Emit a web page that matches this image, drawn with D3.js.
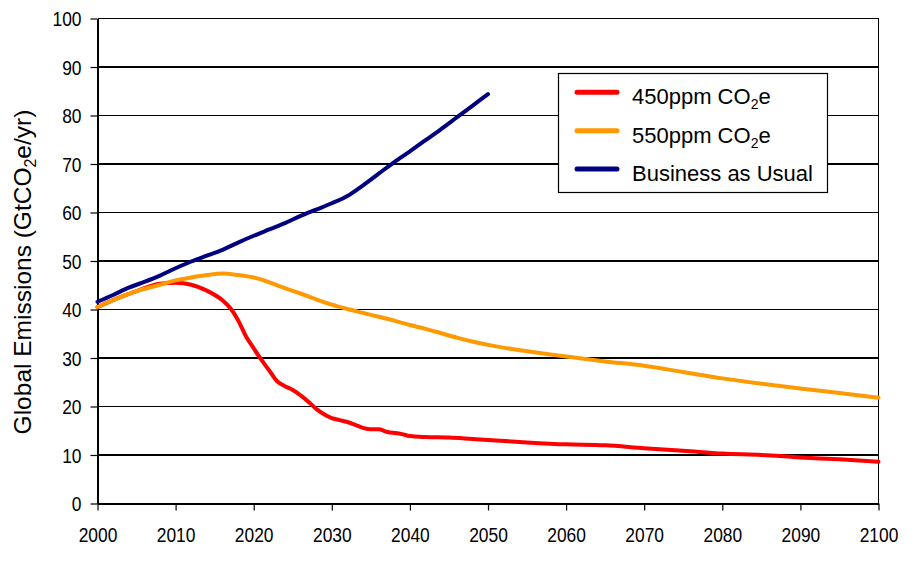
<!DOCTYPE html>
<html><head><meta charset="utf-8">
<script src="https://cdn.jsdelivr.net/npm/d3@7"></script>
<style>body{margin:0;background:#fff}text{font-family:"Liberation Sans",Arial,sans-serif;fill:#000}</style>
</head><body><svg id="c" width="914" height="564"></svg>
<script>
const xTicks = [2000,2010,2020,2030,2040,2050,2060,2070,2080,2090,2100];
const yTicks = [0,10,20,30,40,50,60,70,80,90,100];
const seriesNames = ["450ppm CO₂e","550ppm CO₂e","Business as Usual"];

const years450 = [2000,2003,2005,2008,2010,2012,2014,2016,2017,2018,2019,2020,2021,2022,2023,2024,2025,2026,2027,2028,2029,2030,2031,2032,2033,2034,2035,2036,2037,2039,2040,2042,2045,2048,2050,2055,2060,2065,2070,2075,2080,2085,2090,2095,2100];
const vals450  = [40.5,42.6,43.8,45.3,45.5,45.1,43.9,41.9,40.3,37.8,34.5,32.0,29.6,27.4,25.2,24.2,23.4,22.3,21.0,19.5,18.4,17.6,17.2,16.8,16.2,15.6,15.3,15.3,14.8,14.3,13.9,13.7,13.6,13.3,13.1,12.6,12.2,12.0,11.4,10.9,10.3,10.0,9.5,9.1,8.6];

const years550 = [2000,2003,2005,2008,2010,2012,2014,2016,2018,2020,2022,2024,2026,2028,2030,2032,2034,2036,2038,2040,2042,2044,2046,2048,2050,2055,2060,2065,2070,2075,2080,2085,2090,2095,2100];
const vals550  = [40.5,42.6,43.8,45.1,46.0,46.6,47.1,47.4,47.1,46.6,45.6,44.4,43.3,42.1,41.0,40.1,39.3,38.5,37.7,36.8,36.0,35.1,34.2,33.4,32.7,31.4,30.3,29.3,28.4,27.1,25.8,24.7,23.7,22.8,21.8];

const yearsBAU = [2000,2002,2004,2006,2008,2010,2012,2014,2016,2018,2020,2022,2024,2026,2028,2030,2032,2034,2036,2038,2040,2042,2044,2046,2048,2050];
const valsBAU  = [41.6,43.0,44.5,45.7,47.0,48.5,49.9,51.1,52.3,53.8,55.2,56.5,57.8,59.3,60.6,61.9,63.4,65.6,68.0,70.4,72.6,74.9,77.2,79.6,82.0,84.4];

const colors = ["#FF0000","#FF9900","#000080"];

const svg = d3.select("#c");
const x = d3.scaleLinear().domain([2000,2100]).range([97.5,878.5]);
const y = d3.scaleLinear().domain([0,100]).range([503.5,18.5]);

// gridlines
svg.append("g").selectAll("line").data(yTicks.filter(d=>d>0)).join("line")
  .attr("x1",x(2000)).attr("x2",x(2100)).attr("y1",d=>y(d)).attr("y2",d=>y(d))
  .attr("stroke","#000").attr("stroke-width",1.2).attr("shape-rendering","crispEdges");
// right border
svg.append("line").attr("x1",x(2100)).attr("x2",x(2100)).attr("y1",y(100)).attr("y2",y(0))
  .attr("stroke","#000").attr("stroke-width",1.2).attr("shape-rendering","crispEdges");

const fs = 20, squeeze = 0.87;
const gx = svg.append("g").attr("transform",`translate(0,${y(0)})`)
  .call(d3.axisBottom(x).tickValues(xTicks).tickSize(7).tickSizeOuter(0).tickFormat(d3.format("d")));
gx.selectAll("text").attr("y",38).attr("dy",0).style("font-size",fs+"px")
  .attr("textLength",d=>String(d).length*0.556*fs*squeeze).attr("lengthAdjust","spacingAndGlyphs");
const gy = svg.append("g").attr("transform",`translate(${x(2000)},0)`)
  .call(d3.axisLeft(y).tickValues(yTicks).tickSize(7).tickSizeOuter(0).tickPadding(9));
gy.selectAll("text").style("font-size",fs+"px").attr("dy","0.36em")
  .attr("textLength",d=>String(d).length*0.556*fs*squeeze).attr("lengthAdjust","spacingAndGlyphs");
svg.selectAll(".domain,.tick line").attr("stroke","#000").attr("stroke-width",1.2);
svg.selectAll(".domain").attr("shape-rendering","crispEdges");

// y label
const yl = svg.append("text").attr("transform","translate(31,272) rotate(-90)")
  .attr("text-anchor","middle").style("font-size","24.5px");
yl.append("tspan").text("Global Emissions (GtCO");
yl.append("tspan").text("2").style("font-size","16px").attr("dy",5);
yl.append("tspan").text("e/yr)").attr("dy",-5);

// lines
const line = d3.line().x(d=>x(d[0])).y(d=>y(d[1])).curve(d3.curveMonotoneX);
const data = [d3.zip(years450,vals450), d3.zip(years550,vals550), d3.zip(yearsBAU,valsBAU)];
svg.append("g").selectAll("path").data(data).join("path")
  .attr("d",line).attr("fill","none").attr("stroke",(d,i)=>colors[i])
  .attr("stroke-width",4).attr("stroke-linejoin","round").attr("stroke-linecap","round");

// legend
const lg = svg.append("g");
lg.append("rect").attr("x",558.5).attr("y",73.5).attr("width",269).attr("height",119)
  .attr("fill","#fff").attr("stroke","#000").attr("stroke-width",1.2);
const rows = [92.3,130.7,169];
const labels = [["450ppm CO","2","e"],["550ppm CO","2","e"],["Business as Usual"]];
rows.forEach((ry,i)=>{
  lg.append("line").attr("x1",577).attr("x2",617).attr("y1",ry).attr("y2",ry)
    .attr("stroke",colors[i]).attr("stroke-width",5).attr("stroke-linecap","round");
  const t = lg.append("text").attr("x",632).attr("y",ry+12).style("font-size","22px");
  t.append("tspan").text(labels[i][0]);
  if(labels[i].length>1){
    t.append("tspan").text(labels[i][1]).style("font-size","14px").attr("dy",5);
    t.append("tspan").text(labels[i][2]).attr("dy",-5);
  }
});
</script></body></html>
